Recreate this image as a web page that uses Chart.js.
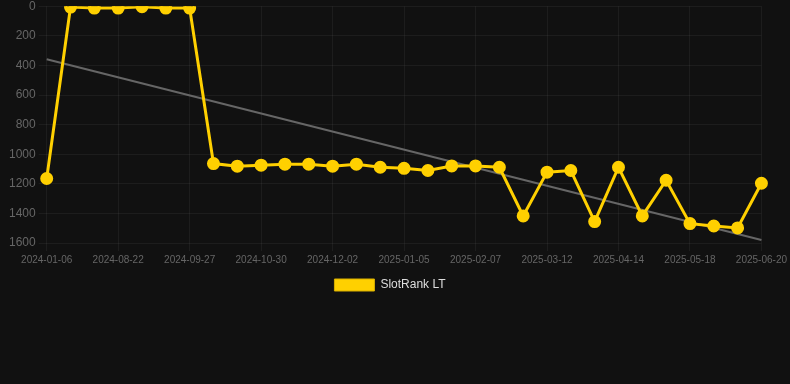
<!DOCTYPE html>
<html>
<head>
<meta charset="utf-8">
<script src="https://cdn.jsdelivr.net/npm/chart.js@4"></script>
<style>
  html, body { margin: 0; padding: 0; background: #111111; }
  #wrap { width: 790px; height: 301px; position: relative; }
</style>
</head>
<body>
<div id="wrap"><canvas id="chart"></canvas></div>
<script>
// dates (only every 3rd one is shown on the axis)
var dates = [
  "2024-01-06", "2024-07-31", "2024-08-11", "2024-08-22", "2024-09-03", "2024-09-15",
  "2024-09-27", "2024-10-08", "2024-10-19", "2024-10-30", "2024-11-10", "2024-11-21",
  "2024-12-02", "2024-12-13", "2024-12-24", "2025-01-05", "2025-01-16", "2025-01-27",
  "2025-02-07", "2025-02-18", "2025-03-01", "2025-03-12", "2025-03-23", "2025-04-03",
  "2025-04-14", "2025-04-25", "2025-05-07", "2025-05-18", "2025-05-29", "2025-06-09",
  "2025-06-20"
];
var rankValues = [
  1164, 5, 12, 12, 3, 12,
  12, 1063, 1081, 1074, 1067, 1067,
  1081, 1067, 1088, 1095, 1110, 1079,
  1079, 1088, 1417, 1121, 1110, 1455,
  1088, 1417, 1176, 1469, 1485, 1498,
  1196
];
var trendStart = 358;
var trendEnd = 1580;

var yTicks = [0, 200, 400, 600, 800, 1000, 1200, 1400, 1600];

var trendData = [
  { x: dates[0], y: trendStart },
  { x: dates[dates.length - 1], y: trendEnd }
];

// nudge the legend a little to the left, like the original
var legendShift = {
  id: 'legendShift',
  afterLayout: function (c) {
    if (c.legend) {
      c.legend.left -= 8;
      c.legend.right -= 8;
    }
  }
};

var ctx = document.getElementById('chart');
var chart = new Chart(ctx, {
  type: 'line',
  data: {
    labels: dates,
    datasets: [
      {
        label: 'SlotRank LT',
        data: rankValues,
        borderColor: '#FFD000',
        backgroundColor: '#FFD000',
        borderWidth: 3,
        pointRadius: 5,
        pointHoverRadius: 5,
        pointBackgroundColor: '#FFD000',
        pointBorderColor: '#FFD000',
        tension: 0
      },
      {
        label: 'trend',
        data: trendData,
        borderColor: '#666666',
        borderWidth: 2,
        pointRadius: 0,
        fill: false
      }
    ]
  },
  plugins: [legendShift],
  options: {
    responsive: true,
    maintainAspectRatio: false,
    animation: false,
    layout: { autoPadding: false, padding: { left: 6, right: 0, top: 0, bottom: 0 } },
    plugins: {
      legend: {
        position: 'bottom',
        labels: {
          color: '#dddddd',
          boxWidth: 40,
          boxHeight: 12,
          font: { size: 12, family: 'Liberation Sans, Arial, sans-serif' },
          filter: function (item) { return item.text !== 'trend'; },
          generateLabels: function (c) {
            var items = Chart.defaults.plugins.legend.labels.generateLabels(c);
            items.forEach(function (it) { it.lineWidth = 1; it.strokeStyle = '#d9b000'; });
            return items;
          }
        }
      },
      tooltip: { enabled: false }
    },
    scales: {
      x: {
        grid: { color: 'rgba(255,255,255,0.05)' },
        border: { display: false },
        ticks: {
          color: '#666666',
          autoSkip: false,
          maxRotation: 0,
          font: { size: 10, family: 'Liberation Sans, Arial, sans-serif' },
          callback: function (val, i) {
            return i % 3 === 0 ? dates[i] : null;
          }
        }
      },
      y: {
        reverse: true,
        min: 0,
        max: 1600,
        grid: { color: 'rgba(255,255,255,0.05)' },
        border: { display: false },
        afterBuildTicks: function (axis) {
          axis.ticks = yTicks.map(function (v) { return { value: v }; });
        },
        ticks: {
          color: '#666666',
          font: { size: 12, lineHeight: 0.55, family: 'Liberation Sans, Arial, sans-serif' },
          callback: function (val) { return String(val); }
        }
      }
    }
  }
});
</script>
</body>
</html>
